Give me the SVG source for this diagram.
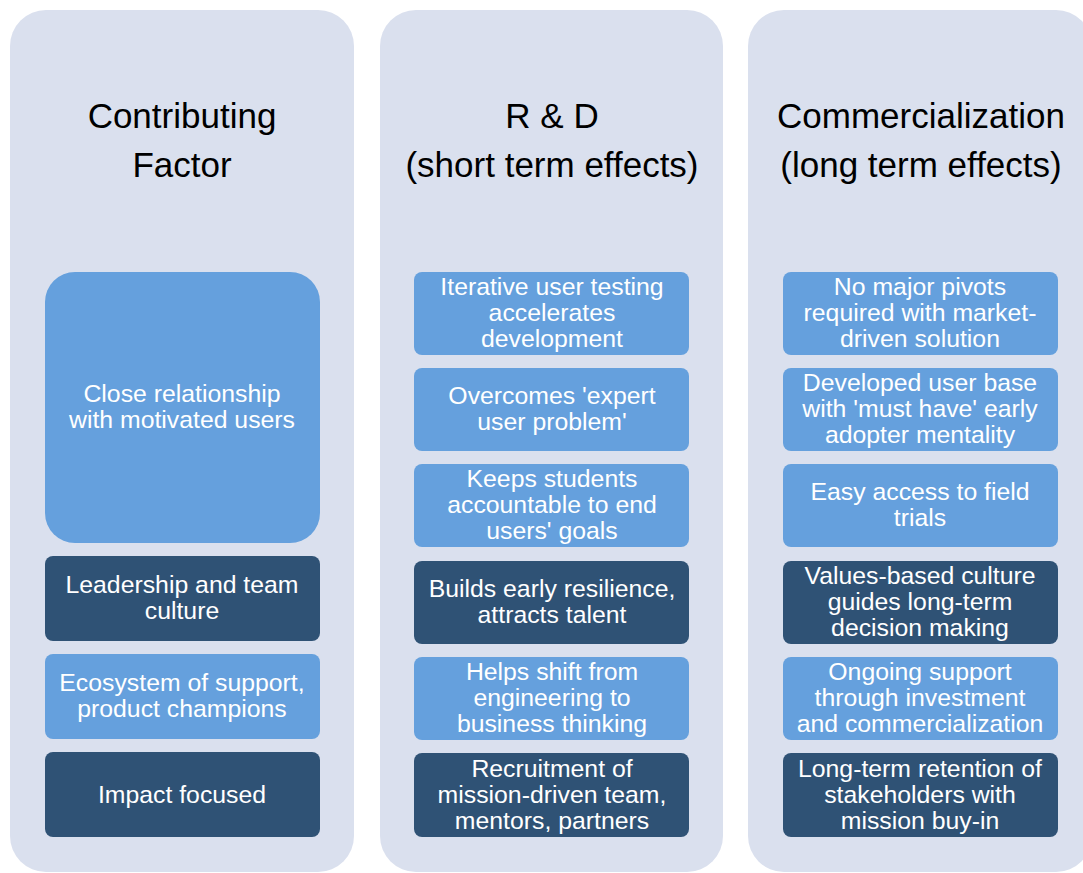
<svg xmlns="http://www.w3.org/2000/svg" width="1083" height="873" viewBox="0 0 1083 873">
  <style>
    .panel { fill: #dae0ee; }
    .light { fill: #65a0dd; }
    .dark { fill: #2f5275; }
    .head { font-family: "Liberation Sans", Arial, sans-serif; font-size: 35px; fill: #000; text-anchor: middle; }
    .lbl { font-family: "Liberation Sans", Arial, sans-serif; font-size: 24.8px; fill: #fff; text-anchor: middle; }
  </style>
  <rect width="1083" height="873" fill="#ffffff"/>

  <!-- column panels -->
  <g id="col-factor">
    <rect class="panel" x="10" y="10" width="344" height="862" rx="36"/>
    <text class="head" x="182" y="128">Contributing</text>
    <text class="head" x="182" y="177">Factor</text>
  </g>
  <g id="col-rd">
    <rect class="panel" x="380" y="10" width="343" height="862" rx="36"/>
    <text class="head" x="552" y="128">R &amp; D</text>
    <text class="head" x="552" y="177">(short term effects)</text>
  </g>
  <g id="col-comm">
    <rect class="panel" x="748" y="10" width="344" height="862" rx="36"/>
    <text class="head" x="921" y="128">Commercialization</text>
    <text class="head" x="921" y="177">(long term effects)</text>
  </g>

  <!-- contributing factors -->
  <g id="f1">
    <rect class="light" x="45" y="272" width="275" height="271" rx="30"/>
    <text class="lbl" x="182" y="402">Close relationship</text>
    <text class="lbl" x="182" y="428">with motivated users</text>
  </g>
  <g id="f2">
    <rect class="dark" x="45" y="556" width="275" height="85" rx="8"/>
    <text class="lbl" x="182" y="593">Leadership and team</text>
    <text class="lbl" x="182" y="619">culture</text>
  </g>
  <g id="f3">
    <rect class="light" x="45" y="654" width="275" height="85" rx="8"/>
    <text class="lbl" x="182" y="691">Ecosystem of support,</text>
    <text class="lbl" x="182" y="717">product champions</text>
  </g>
  <g id="f4">
    <rect class="dark" x="45" y="752" width="275" height="85" rx="8"/>
    <text class="lbl" x="182" y="803">Impact focused</text>
  </g>

  <!-- R & D effects -->
  <g id="r1">
    <rect class="light" x="414" y="272" width="275" height="83" rx="8"/>
    <text class="lbl" x="552" y="295">Iterative user testing</text>
    <text class="lbl" x="552" y="321">accelerates</text>
    <text class="lbl" x="552" y="347">development</text>
  </g>
  <g id="r2">
    <rect class="light" x="414" y="368" width="275" height="83" rx="8"/>
    <text class="lbl" x="552" y="404">Overcomes 'expert</text>
    <text class="lbl" x="552" y="430">user problem'</text>
  </g>
  <g id="r3">
    <rect class="light" x="414" y="464" width="275" height="83" rx="8"/>
    <text class="lbl" x="552" y="487">Keeps students</text>
    <text class="lbl" x="552" y="513">accountable to end</text>
    <text class="lbl" x="552" y="539">users' goals</text>
  </g>
  <g id="r4">
    <rect class="dark" x="414" y="561" width="275" height="83" rx="8"/>
    <text class="lbl" x="552" y="597">Builds early resilience,</text>
    <text class="lbl" x="552" y="623">attracts talent</text>
  </g>
  <g id="r5">
    <rect class="light" x="414" y="657" width="275" height="83" rx="8"/>
    <text class="lbl" x="552" y="680">Helps shift from</text>
    <text class="lbl" x="552" y="706">engineering to</text>
    <text class="lbl" x="552" y="732">business thinking</text>
  </g>
  <g id="r6">
    <rect class="dark" x="414" y="753" width="275" height="84" rx="8"/>
    <text class="lbl" x="552" y="777">Recruitment of</text>
    <text class="lbl" x="552" y="803">mission-driven team,</text>
    <text class="lbl" x="552" y="829">mentors, partners</text>
  </g>

  <!-- commercialization effects -->
  <g id="c1">
    <rect class="light" x="783" y="272" width="275" height="83" rx="8"/>
    <text class="lbl" x="920" y="295">No major pivots</text>
    <text class="lbl" x="920" y="321">required with market-</text>
    <text class="lbl" x="920" y="347">driven solution</text>
  </g>
  <g id="c2">
    <rect class="light" x="783" y="368" width="275" height="83" rx="8"/>
    <text class="lbl" x="920" y="391">Developed user base</text>
    <text class="lbl" x="920" y="417">with 'must have' early</text>
    <text class="lbl" x="920" y="443">adopter mentality</text>
  </g>
  <g id="c3">
    <rect class="light" x="783" y="464" width="275" height="83" rx="8"/>
    <text class="lbl" x="920" y="500">Easy access to field</text>
    <text class="lbl" x="920" y="526">trials</text>
  </g>
  <g id="c4">
    <rect class="dark" x="783" y="561" width="275" height="83" rx="8"/>
    <text class="lbl" x="920" y="584">Values-based culture</text>
    <text class="lbl" x="920" y="610">guides long-term</text>
    <text class="lbl" x="920" y="636">decision making</text>
  </g>
  <g id="c5">
    <rect class="light" x="783" y="657" width="275" height="83" rx="8"/>
    <text class="lbl" x="920" y="680">Ongoing support</text>
    <text class="lbl" x="920" y="706">through investment</text>
    <text class="lbl" x="920" y="732">and commercialization</text>
  </g>
  <g id="c6">
    <rect class="dark" x="783" y="753" width="275" height="84" rx="8"/>
    <text class="lbl" x="920" y="777">Long-term retention of</text>
    <text class="lbl" x="920" y="803">stakeholders with</text>
    <text class="lbl" x="920" y="829">mission buy-in</text>
  </g>

  <!-- no connectors in this layout -->
  <g id="connectors"/>
</svg>
